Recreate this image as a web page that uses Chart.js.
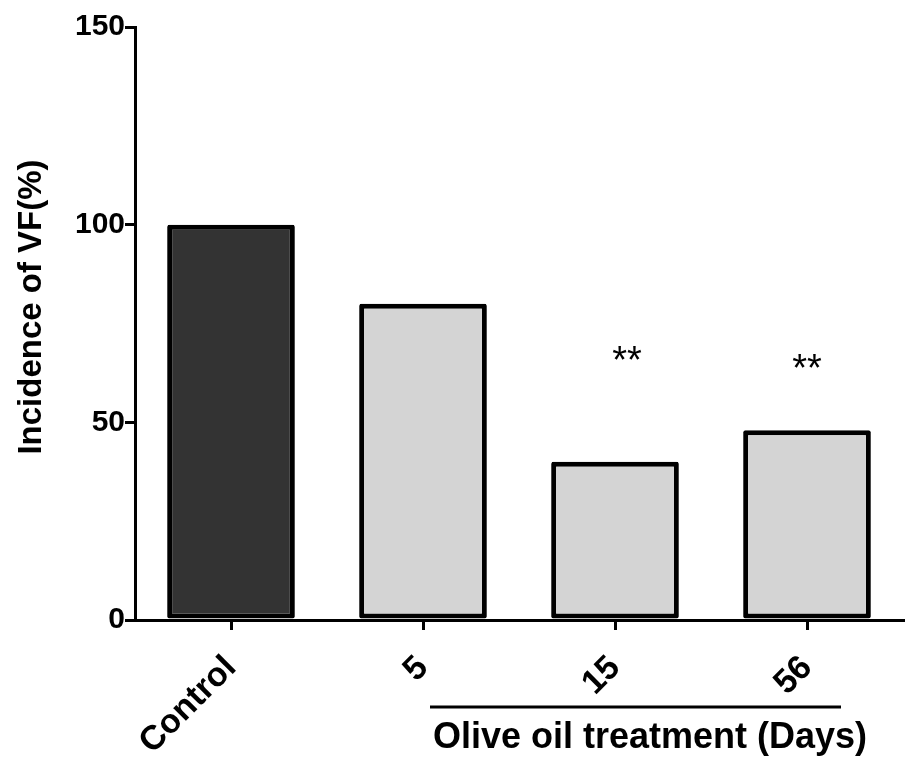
<!DOCTYPE html>
<html>
<head>
<meta charset="utf-8">
<script src="https://cdn.jsdelivr.net/npm/chart.js@4.4.1/dist/chart.umd.min.js"></script>
<style>
  html, body { margin: 0; padding: 0; background: #fff; }
  #wrap { width: 905px; height: 760px; }
</style>
</head>
<body>
<div id="wrap"><canvas id="vfChart" width="905" height="760"></canvas></div>
<script>
// ── data ──
const groups = ['Control', '5', '15', '56'];
const incidence = [100, 80, 40, 48];
const barColors = ['#333333', '#d4d4d4', '#d4d4d4', '#d4d4d4'];
const sigMarks = ['', '', '**', '**'];
const sigLevels = [null, null, 68, 66];
const yTicks = [0, 50, 100, 150];
const yTitle = 'Incidence of VF(%)';
const groupLabel = 'Olive oil treatment (Days)';
const groupFrom = 1, groupTo = 3;

const FONT = "'Liberation Sans', Arial, sans-serif";

// stars above bars, y title, and the underline with the group caption
const annotations = {
  id: 'annotations',
  afterDatasetsDraw(chart) {
    const { ctx, scales: { x, y } } = chart;
    ctx.save();
    ctx.fillStyle = '#000';
    ctx.font = '38px ' + FONT;
    ctx.textAlign = 'center';
    ctx.textBaseline = 'alphabetic';
    sigMarks.forEach((m, i) => {
      if (!m) return;
      const dx = i === 2 ? 12 : 0;
      ctx.fillText(m, x.getPixelForValue(i) + dx, y.getPixelForValue(sigLevels[i]) + 22);
    });

    const x0 = x.getPixelForValue(groupFrom) + 7;
    const x1 = x.getPixelForValue(groupTo) + 34;
    ctx.strokeStyle = '#000';
    ctx.lineWidth = 3;
    ctx.beginPath();
    ctx.moveTo(x0, 707);
    ctx.lineTo(x1, 707);
    ctx.stroke();

    ctx.font = 'bold 36px ' + FONT;
    ctx.fillText(groupLabel, 650, 748);

    // y axis title
    ctx.translate(32, 307);
    ctx.rotate(-Math.PI / 2);
    ctx.font = 'bold 33px ' + FONT;
    ctx.textBaseline = 'middle';
    ctx.fillText(yTitle, 0, 0);
    ctx.restore();
  }
};

new Chart(document.getElementById('vfChart'), {
  type: 'bar',
  data: {
    labels: groups,
    datasets: [{
      data: incidence,
      backgroundColor: barColors,
      borderColor: '#000',
      borderWidth: 5,
      borderSkipped: false,
      borderRadius: 2,
      categoryPercentage: 1,
      barPercentage: 0.665
    }]
  },
  options: {
    responsive: false,
    animation: false,
    layout: { padding: { top: 27, right: 2, left: 0, bottom: 0 } },
    plugins: { legend: { display: false }, tooltip: { enabled: false } },
    scales: {
      x: {
        afterFit: s => { s.height = 140; },
        grid: { display: true, offset: false, drawOnChartArea: false, color: '#000', lineWidth: 3, tickLength: 10 },
        border: { display: true, color: '#000', width: 3 },
        ticks: {
          color: '#000',
          font: { family: FONT, size: 34, weight: 'bold' },
          maxRotation: 45, minRotation: 45,
          padding: 18
        }
      },
      y: {
        min: 0, max: 150,
        afterFit: s => { s.width = 135; },
        afterBuildTicks: s => { s.ticks = yTicks.map(v => ({ value: v })); },
        grid: { display: true, drawOnChartArea: false, color: '#000', lineWidth: 3, tickLength: 10 },
        border: { display: true, color: '#000', width: 3 },
        ticks: {
          color: '#000',
          font: { family: FONT, size: 30, weight: 'bold' },
          padding: 0
        }
      }
    }
  },
  plugins: [annotations]
});
</script>
</body>
</html>
